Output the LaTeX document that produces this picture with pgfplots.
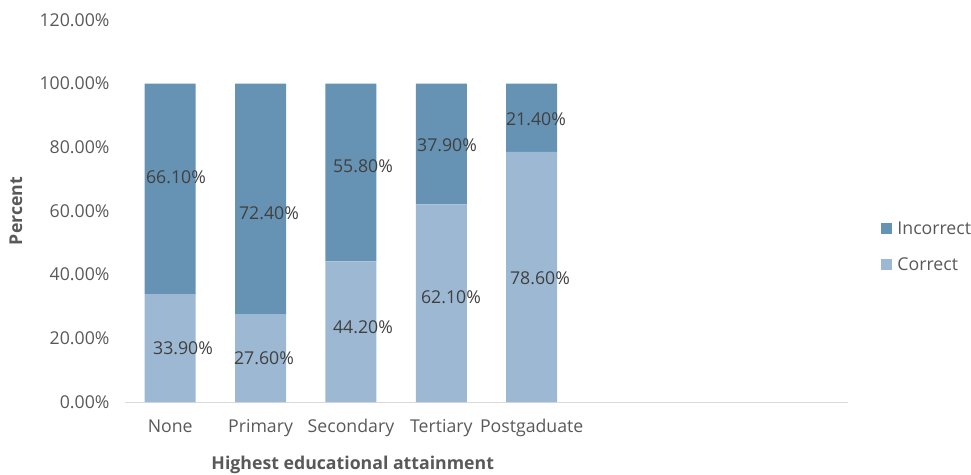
\documentclass[border=0pt]{standalone}
\usepackage{fontspec}
\setmainfont{Open Sans}
\usepackage{pgfplots}
\pgfplotsset{compat=1.18}
\definecolor{cinc}{HTML}{6693B3}
\definecolor{ccor}{HTML}{9DB8D2}
\definecolor{tickc}{HTML}{595959}
\definecolor{labc}{HTML}{404040}
\begin{document}
\begin{tikzpicture}
\newcommand{\fs}{\fontsize{17.7}{21}\selectfont}
\begin{axis}[
  scale only axis, width=723pt, height=382pt,
  xmin=0, xmax=8, ymin=0, ymax=120,
  ybar stacked, bar width=51pt,
  axis x line=bottom, axis y line=left, axis line style={-},
  y axis line style={draw=none},
  x axis line style={draw=black!15, line width=0.9pt},
  major tick length=0pt,
  xtick={0.5,1.5,2.5,3.5,4.5},
  xticklabels={None,Primary,Secondary,Tertiary,Postgaduate},
  ytick={0,20,40,60,80,100,120},
  yticklabels={0.00\%,20.00\%,40.00\%,60.00\%,80.00\%,100.00\%,120.00\%},
  /pgf/number format/assume math mode=true,
  ticklabel style={font=\fs, color=tickc},
  yticklabel style={anchor=east, xshift=-12pt},
  xticklabel style={anchor=north, yshift=-14pt},
  xlabel={\textbf{Highest educational attainment}},
  ylabel={\textbf{Percent}},
  xlabel style={at={(axis description cs:0.315,-0.165)}, anchor=center, font=\fs, color=tickc},
  ylabel style={at={(axis description cs:-0.151,0.5)}, anchor=center, rotate=0, font=\fs, color=tickc},
  legend style={at={(axis description cs:1.046,0.406)}, anchor=west, draw=none, font=\fs, text=tickc, row sep=18pt, inner sep=0pt},
  legend cell align=left,
  reverse legend,
  legend image code/.code={\fill[#1] (0pt,-5.5pt) rectangle (11pt,5.5pt); \path (14pt,0pt);},
  clip=false,
]
\addplot[fill=ccor, draw=none] coordinates {(0.5,33.9) (1.5,27.6) (2.5,44.2) (3.5,62.1) (4.5,78.6)};
\addplot[fill=cinc, draw=none] coordinates {(0.5,66.1) (1.5,72.4) (2.5,55.8) (3.5,37.9) (4.5,21.4)};
\legend{Correct,Incorrect}
\coordinate (bl) at (rel axis cs:0,0);
\end{axis}
\begin{axis}[
  scale only axis, width=723pt, height=382pt,
  xmin=0, xmax=8, ymin=0, ymax=120,
  hide axis, clip=false,
]
\addplot[only marks, mark=none, nodes near coords, point meta=explicit symbolic,
  every node near coord/.append style={anchor=center, font=\fs, color=labc, inner sep=0pt}]
  coordinates {
  (0.642,16.96) [33.90\%]
  (1.538,13.8) [27.60\%]
  (2.633,23.6) [44.20\%]
  (3.607,33.0) [62.10\%]
  (4.592,38.96) [78.60\%]
  (0.564,70.7) [66.10\%]
  (1.593,59.4) [72.40\%]
  (2.633,74.1) [55.80\%]
  (3.563,80.7) [37.90\%]
  (4.547,88.9) [21.40\%]
  };
\end{axis}
\pgfresetboundingbox
\path ([shift={(-125pt,-72pt)}]bl) rectangle ([shift={(846pt,402pt)}]bl);
\end{tikzpicture}
\end{document}
